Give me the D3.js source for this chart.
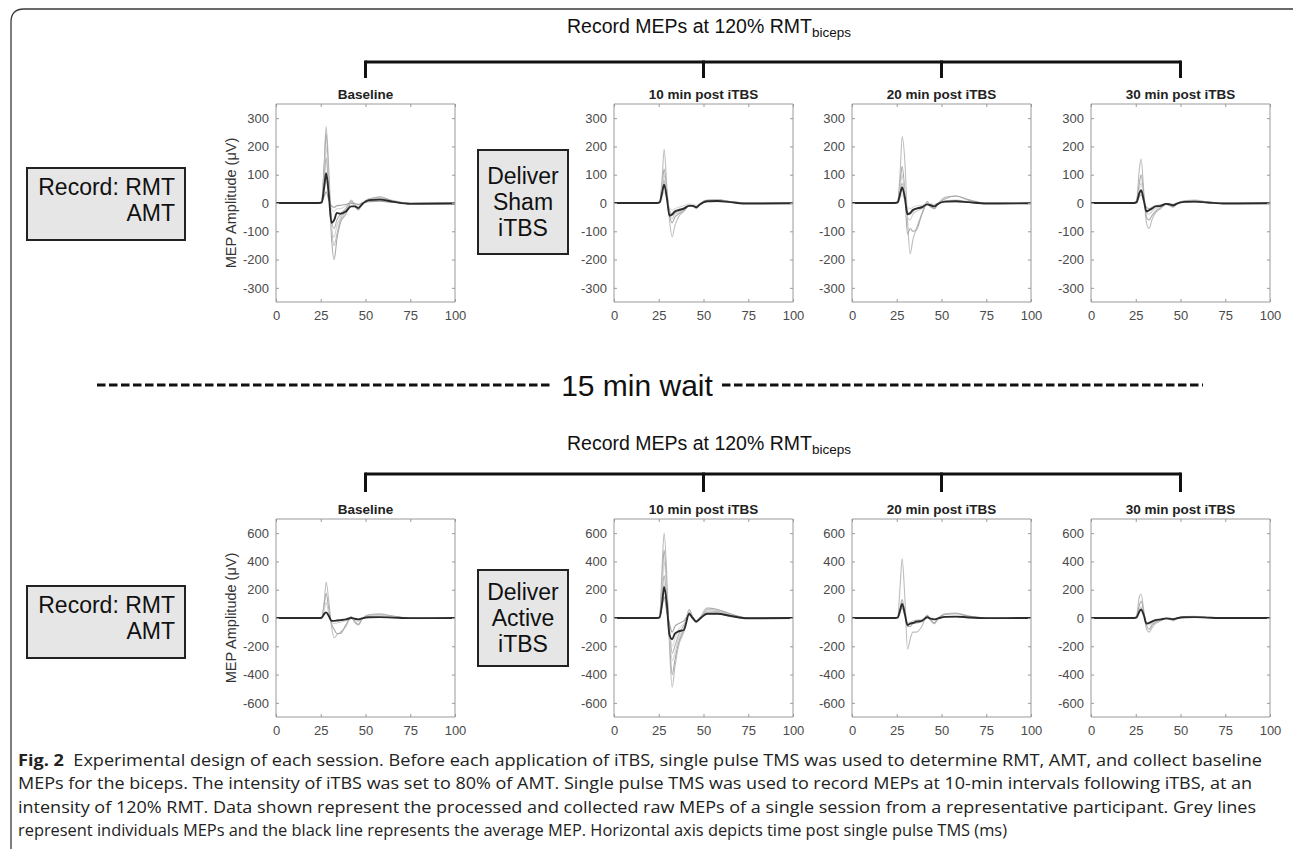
<!DOCTYPE html>
<html><head><meta charset="utf-8">
<script src="https://cdn.jsdelivr.net/npm/d3@7"></script>
<style>html,body{margin:0;padding:0;background:#fff;}svg{display:block;}</style>
</head><body>
<svg id="fig" width="1293" height="849"></svg>
<script>
// ---------- DATA ----------
const timeMs = [0, 24, 25.5, 27, 28, 29.5, 31, 32.5, 34, 36, 39, 42, 44, 46, 48, 52, 58, 65, 75, 100];
const xTicks = [0, 25, 50, 75, 100];
const yTicksSham = [-300, -200, -100, 0, 100, 200, 300];
const yTicksActive = [-600, -400, -200, 0, 200, 400, 600];
const panelTitles = ["Baseline", "10 min post iTBS", "20 min post iTBS", "30 min post iTBS"];

// Sham session (top row)
const shamBaselineMean = [0,0,2,60,105,30,-70,-60,-35,-38,-30,-12,-12,-18,-5,10,12,5,-3,-2];
const shamBaselineTrials = [
  [0,0,5,150,270,120,-80,-150,-110,-60,-30,10,-5,-20,-5,15,18,8,-2,0],
  [0,0,3,140,245,80,-120,-200,-130,-70,-40,0,-10,-25,-5,12,15,6,-2,-1],
  [0,0,2,100,200,60,-90,-120,-80,-50,-25,8,-8,-20,-3,15,20,10,0,-1],
  [0,1,3,90,160,40,-60,-90,-60,-40,-20,5,-5,-15,0,12,22,8,-1,0],
  [0,0,2,50,80,30,-20,-30,-20,-20,-10,2,-5,-10,0,8,10,4,-2,0],
  [0,0,1,25,40,10,-10,-15,-10,-8,-5,0,-2,-5,0,5,6,2,-1,0]
];
const sham10Mean = [0,0,2,40,65,20,-45,-40,-30,-25,-20,-10,-10,-15,-5,6,7,3,-2,-1];
const sham10Trials = [
  [0,0,3,100,190,60,-60,-120,-80,-50,-30,-8,-12,-20,-5,8,10,5,-1,0],
  [0,0,2,70,120,40,-40,-70,-50,-40,-25,-5,-10,-15,-3,10,12,5,-1,0],
  [0,0,2,60,100,30,-30,-55,-40,-35,-20,-5,-8,-12,-2,8,10,4,-1,0],
  [0,1,2,50,80,20,-25,-45,-35,-30,-18,-8,-10,-14,-3,6,8,3,-1,0],
  [0,0,1,25,40,10,-15,-25,-20,-15,-10,-4,-5,-8,-2,4,5,2,-1,0]
];
const sham20Mean = [0,0,2,35,55,20,-40,-35,-25,-20,-15,-5,-8,-12,-3,5,6,3,-2,-1];
const sham20Trials = [
  [0,0,5,120,235,150,-60,-180,-130,-90,-40,-5,-15,-20,-3,20,25,10,-1,0],
  [0,0,3,80,130,40,-110,-90,-100,-95,-40,5,-10,-20,-5,15,25,12,0,0],
  [0,0,2,60,100,30,-50,-60,-40,-30,-20,-5,-8,-12,-3,8,10,5,-1,0],
  [0,0,2,45,70,20,-30,-40,-30,-20,-15,-3,-5,-10,-2,6,8,3,-1,0],
  [0,0,1,20,30,8,-15,-20,-15,-10,-8,-2,-3,-5,-1,3,4,2,-1,0]
];
const sham30Mean = [0,0,3,35,45,10,-30,-25,-20,-12,-10,-3,-5,-8,-2,4,5,2,-2,-1];
const sham30Trials = [
  [0,0,10,120,155,40,-70,-90,-60,-35,-20,-5,-10,-15,-3,8,10,4,-1,0],
  [0,0,5,70,100,25,-50,-60,-45,-30,-15,-3,-8,-12,-2,6,8,3,-1,0],
  [0,0,4,50,70,15,-35,-40,-30,-20,-12,-3,-6,-10,-2,5,6,3,-1,0],
  [0,0,2,22,30,5,-15,-20,-15,-10,-6,-2,-3,-5,-1,3,4,2,-1,0]
];

// Active session (bottom row)
const activeBaselineMean = [0,0,2,30,40,15,-20,-20,-18,-15,-10,0,-5,-10,-3,5,6,3,-1,0];
const activeBaselineTrials = [
  [0,0,5,120,255,120,-60,-140,-120,-100,-60,5,-30,-50,-10,25,30,15,0,0],
  [0,0,4,100,175,60,-40,-80,-110,-110,-50,10,-25,-45,-10,20,25,12,0,0],
  [0,0,3,60,110,30,-25,-40,-35,-30,-20,5,-15,-25,-5,15,20,8,0,0]
];
const active10Mean = [0,0,5,120,220,100,-120,-150,-110,-95,-85,30,0,-25,-5,30,30,15,-2,0];
const active10Trials = [
  [0,0,10,400,600,300,-200,-490,-350,-200,-100,40,0,-30,0,60,55,25,0,0],
  [0,0,8,300,480,200,-150,-400,-300,-180,-80,60,5,-30,0,70,60,30,0,0],
  [0,0,7,250,400,180,-120,-300,-250,-150,-70,50,0,-25,0,65,50,20,0,0],
  [0,0,6,200,300,120,-80,-250,-200,-120,-50,40,0,-20,0,50,45,15,0,0],
  [0,0,5,150,250,80,-60,-200,-150,-80,-40,35,0,-20,0,40,40,12,0,0],
  [0,0,4,90,150,40,-40,-100,-60,-40,-20,20,-5,-25,0,30,30,10,0,0]
];
const active20Mean = [0,0,3,60,100,30,-50,-40,-35,-25,-20,5,-5,-10,-3,8,10,4,-1,0];
const active20Trials = [
  [0,0,8,250,420,150,-220,-150,-100,-100,-60,20,-20,-40,-5,30,35,15,0,0],
  [0,0,4,80,130,40,-60,-60,-40,-35,-25,15,-10,-35,-5,25,30,12,0,0],
  [0,0,3,45,70,20,-30,-30,-20,-15,-10,5,-5,-8,-2,6,8,4,0,0]
];
const active30Mean = [0,0,5,45,60,20,-40,-35,-25,-15,-10,-3,-5,-8,-2,5,6,3,0,0];
const active30Trials = [
  [0,0,20,150,170,50,-80,-100,-70,-40,-20,-5,-10,-20,-3,10,12,5,0,0],
  [0,0,10,90,120,40,-50,-80,-50,-30,-15,-3,-8,-15,-2,8,10,4,0,0],
  [0,0,6,60,80,25,-35,-50,-35,-20,-10,-3,-5,-10,-2,6,8,3,0,0]
];

const captionLines = [
  ["Fig. 2", "  Experimental design of each session. Before each application of iTBS, single pulse TMS was used to determine RMT, AMT, and collect baseline"],
  ["", "MEPs for the biceps. The intensity of iTBS was set to 80% of AMT. Single pulse TMS was used to record MEPs at 10-min intervals following iTBS, at an"],
  ["", "intensity of 120% RMT. Data shown represent the processed and collected raw MEPs of a single session from a representative participant. Grey lines"],
  ["", "represent individuals MEPs and the black line represents the average MEP. Horizontal axis depicts time post single pulse TMS (ms)"]
];

// ---------- LAYOUT ----------
const svg = d3.select("#fig");
const SANS = "'Liberation Sans', Arial, Helvetica, sans-serif";
const panelLefts = [276, 614, 852, 1091];
const panelW = 179;
const rows = [
  {top: 104, bottom: 302, yMax: 350, yTicks: yTicksSham, titleY: 33, bracketY: 62, tickEnd: 78,
   means: [shamBaselineMean, sham10Mean, sham20Mean, sham30Mean],
   trials: [shamBaselineTrials, sham10Trials, sham20Trials, sham30Trials],
   box1: {x: 27, y: 168, w: 158, h: 72}, box2: {x: 478, y: 150, w: 90, h: 104, lines: ["Deliver","Sham","iTBS"]}},
  {top: 519, bottom: 717, yMax: 700, yTicks: yTicksActive, titleY: 450, bracketY: 474, tickEnd: 492,
   means: [activeBaselineMean, active10Mean, active20Mean, active30Mean],
   trials: [activeBaselineTrials, active10Trials, active20Trials, active30Trials],
   box1: {x: 27, y: 586, w: 158, h: 72}, box2: {x: 478, y: 570, w: 90, h: 96, lines: ["Deliver","Active","iTBS"]}}
];
const greyShades = ["#bdbdbd", "#a9a9a9", "#cfcfcf", "#b3b3b3", "#d9d9d9", "#9f9f9f"];

// outer frame
svg.append("path")
  .attr("d", "M11,849 L11,22 Q11,9 24,9 L1293,9")
  .attr("fill", "none").attr("stroke", "#3a3a3a").attr("stroke-width", 1.3);

rows.forEach((row) => {
  // Title with subscript
  const t = svg.append("text").attr("x", 709).attr("y", row.titleY)
    .attr("text-anchor", "middle").attr("font-family", SANS).attr("font-size", 19.5).attr("fill", "#111");
  t.append("tspan").text("Record MEPs at 120% RMT");
  t.append("tspan").attr("font-size", 13.5).attr("dy", 4).text("biceps");

  // Bracket
  const centers = panelLefts.map(l => l + panelW / 2);
  svg.append("line").attr("x1", centers[0]).attr("x2", centers[3])
    .attr("y1", row.bracketY).attr("y2", row.bracketY)
    .attr("stroke", "#111").attr("stroke-width", 3);
  centers.forEach(c => {
    svg.append("line").attr("x1", c).attr("x2", c)
      .attr("y1", row.bracketY - 1.5).attr("y2", row.tickEnd)
      .attr("stroke", "#111").attr("stroke-width", 3);
  });

  // Left box "Record: RMT / AMT"
  const b1 = row.box1;
  svg.append("rect").attr("x", b1.x).attr("y", b1.y).attr("width", b1.w).attr("height", b1.h)
    .attr("fill", "#e6e6e6").attr("stroke", "#222").attr("stroke-width", 2);
  svg.append("text").attr("x", b1.x + b1.w - 10).attr("y", b1.y + 27)
    .attr("text-anchor", "end").attr("font-family", SANS).attr("font-size", 23).attr("fill", "#111").text("Record: RMT");
  svg.append("text").attr("x", b1.x + b1.w - 10).attr("y", b1.y + 53)
    .attr("text-anchor", "end").attr("font-family", SANS).attr("font-size", 23).attr("fill", "#111").text("AMT");

  // Delivery box
  const b2 = row.box2;
  svg.append("rect").attr("x", b2.x).attr("y", b2.y).attr("width", b2.w).attr("height", b2.h)
    .attr("fill", "#e6e6e6").attr("stroke", "#222").attr("stroke-width", 2);
  b2.lines.forEach((ln, i) => {
    svg.append("text").attr("x", b2.x + b2.w / 2).attr("y", b2.y + b2.h / 2 + (i - 1) * 26)
      .attr("text-anchor", "middle").attr("dominant-baseline", "central")
      .attr("font-family", SANS).attr("font-size", 23).attr("fill", "#111").text(ln);
  });

  // Panels
  panelLefts.forEach((left, pi) => {
    const x = d3.scaleLinear().domain([0, 100]).range([left, left + panelW]);
    const y = d3.scaleLinear().domain([-row.yMax, row.yMax]).range([row.bottom, row.top]);
    const g = svg.append("g");

    // panel title
    g.append("text").attr("x", left + panelW / 2).attr("y", row.top - 5)
      .attr("text-anchor", "middle").attr("font-family", SANS).attr("font-weight", "bold")
      .attr("font-size", 13.5).attr("fill", "#222").text(panelTitles[pi]);

    // traces
    const line = d3.line().x((d, i) => x(timeMs[i])).y(d => y(d)).curve(d3.curveMonotoneX);
    row.trials[pi].forEach((tr, k) => {
      g.append("path").attr("d", line(tr)).attr("fill", "none")
        .attr("stroke", greyShades[k % greyShades.length]).attr("stroke-width", 1.1);
    });
    g.append("path").attr("d", line(row.means[pi])).attr("fill", "none")
      .attr("stroke", "#2b2b2b").attr("stroke-width", 1.9);

    // axes (MATLAB style box with inward ticks)
    const axCol = "#9a9a9a";
    const fmt = d => String(d);
    const gx = g.append("g").attr("transform", `translate(0,${row.bottom})`)
      .call(d3.axisBottom(x).tickValues(xTicks).tickSize(-3).tickPadding(9).tickFormat(fmt));
    const gxt = g.append("g").attr("transform", `translate(0,${row.top})`)
      .call(d3.axisTop(x).tickValues(xTicks).tickSize(-3).tickFormat(""));
    const gy = g.append("g").attr("transform", `translate(${left},0)`)
      .call(d3.axisLeft(y).tickValues(row.yTicks).tickSize(-3).tickPadding(7).tickFormat(fmt));
    const gyr = g.append("g").attr("transform", `translate(${left + panelW},0)`)
      .call(d3.axisRight(y).tickValues(row.yTicks).tickSize(-3).tickFormat(""));
    [gx, gxt, gy, gyr].forEach(a => {
      a.selectAll(".domain").attr("stroke", axCol).attr("stroke-width", 1);
      a.selectAll(".tick line").attr("stroke", axCol);
      a.selectAll(".tick text").attr("font-family", SANS).attr("font-size", 13).attr("fill", "#4a4a4a");
    });
    gx.selectAll(".domain").attr("d", `M${left},0H${left + panelW}`);
    gxt.selectAll(".domain").attr("d", `M${left},0H${left + panelW}`);
    gy.selectAll(".domain").attr("d", `M0,${row.top}V${row.bottom}`);
    gyr.selectAll(".domain").attr("d", `M0,${row.top}V${row.bottom}`);

    if (pi === 0) {
      g.append("text")
        .attr("transform", `translate(${left - 40},${(row.top + row.bottom) / 2}) rotate(-90)`)
        .attr("text-anchor", "middle").attr("font-family", SANS).attr("font-size", 14.5)
        .attr("fill", "#333").text("MEP Amplitude (μV)");
    }
  });
});

// 15 min wait divider
const waitY = 385;
svg.append("line").attr("x1", 97).attr("x2", 553).attr("y1", waitY).attr("y2", waitY)
  .attr("stroke", "#111").attr("stroke-width", 3.2).attr("stroke-dasharray", "8.5,3.5");
svg.append("line").attr("x1", 722).attr("x2", 1203).attr("y1", waitY).attr("y2", waitY)
  .attr("stroke", "#111").attr("stroke-width", 3.2).attr("stroke-dasharray", "8.5,3.5");
svg.append("text").attr("x", 637).attr("y", waitY).attr("dominant-baseline", "central")
  .attr("text-anchor", "middle").attr("font-family", SANS).attr("font-size", 30).attr("fill", "#111").text("15 min wait");

// Caption
const capWidths = [1244, 1234, 1238, 989];
captionLines.forEach((ln, i) => {
  const t = svg.append("text").attr("x", 18).attr("y", 766 + i * 23.3)
    .attr("font-family", "'Open Sans', 'Noto Sans', sans-serif").attr("font-size", 16).attr("fill", "#222")
    .attr("textLength", capWidths[i]).attr("lengthAdjust", "spacingAndGlyphs");
  if (ln[0]) t.append("tspan").attr("font-weight", "bold").text(ln[0]);
  t.append("tspan").attr("xml:space", "preserve").text(ln[1]);
});
</script>
</body></html>
